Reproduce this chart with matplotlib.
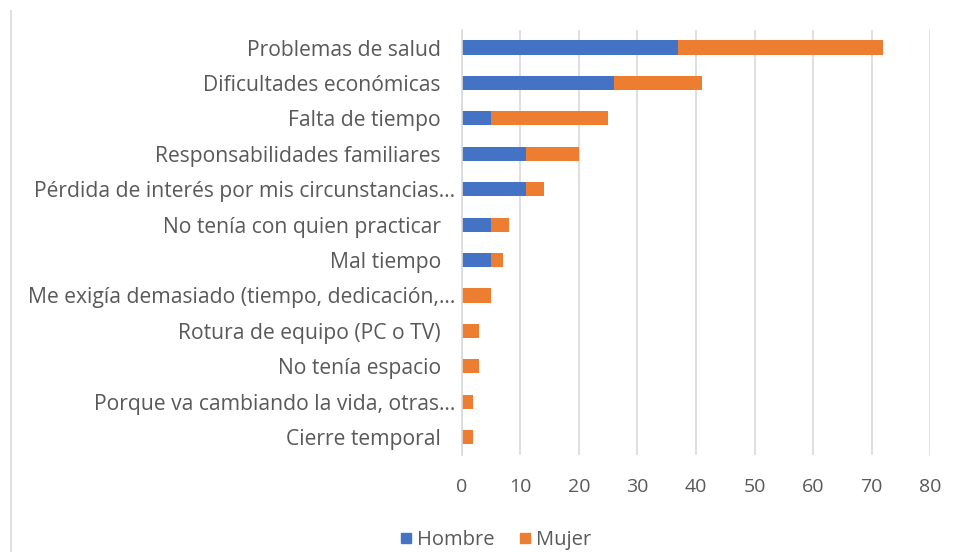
import matplotlib.pyplot as plt
import matplotlib.transforms as mtransforms
import numpy as np
from matplotlib.lines import Line2D

categories = [
    "Problemas de salud",
    "Dificultades económicas",
    "Falta de tiempo",
    "Responsabilidades familiares",
    "Pérdida de interés por mis circunstancias…",
    "No tenía con quien practicar",
    "Mal tiempo",
    "Me exigía demasiado (tiempo, dedicación,…",
    "Rotura de equipo (PC o TV)",
    "No tenía espacio",
    "Porque va cambiando la vida, otras…",
    "Cierre temporal",
]
hombre = [37, 26, 5, 11, 11, 5, 5, 0, 0, 0, 0, 0]
mujer = [35, 15, 20, 9, 3, 3, 2, 5, 3, 3, 2, 2]
xticks = [0, 10, 20, 30, 40, 50, 60, 70, 80]

blue = "#4472C4"
orange = "#ED7D31"
text_color = "#595959"

plt.rcParams["font.family"] = ["Open Sans", "DejaVu Sans"]

fig = plt.figure(figsize=(9.6, 5.52), dpi=100)
ax = fig.add_axes([0.481, 0.176, 0.488, 0.770])

y = np.arange(len(categories))
ax.barh(y, hombre, height=0.4, color=blue, label="Hombre")
ax.barh(y, mujer, left=hombre, height=0.4, color=orange, label="Mujer")

ax.set_ylim(len(categories) - 0.5, -0.5)
ax.set_xlim(0, 80)
ax.set_xticks(xticks)
ax.set_yticks(y)
ax.set_yticklabels(categories, fontsize=15.2, color=text_color)
ax.tick_params(axis="x", labelsize=14, labelcolor=text_color, length=0, pad=17)
ax.tick_params(axis="y", length=0, pad=15)

# truncated labels sit a little closer to the axis, as in the original
shift = mtransforms.ScaledTranslation(14 / 100, 0, fig.dpi_scale_trans)
for lab in ax.get_yticklabels():
    if lab.get_text().endswith("…"):
        lab.set_transform(lab.get_transform() + shift)

ax.grid(axis="x", color="#D9D9D9", linewidth=1.2)
ax.set_axisbelow(True)
for side in ["top", "right", "bottom"]:
    ax.spines[side].set_visible(False)
ax.spines["left"].set_color("#D9D9D9")
ax.spines["left"].set_linewidth(1.2)

handles = [
    Line2D([], [], marker="s", linestyle="", markersize=7, color=blue),
    Line2D([], [], marker="s", linestyle="", markersize=7, color=orange),
]
fig.legend(handles, ["Hombre", "Mujer"], loc="center", bbox_to_anchor=(0.514, 0.022),
           ncol=2, frameon=False, fontsize=14.5, labelcolor=text_color,
           handletextpad=0.05, columnspacing=1.0, handlelength=1.0)

# chart frame edge on the left
fig.add_artist(Line2D([0.011, 0.011], [0.0, 0.98], color="#D9D9D9", linewidth=1.2))

fig.savefig("out.png", facecolor="white")
